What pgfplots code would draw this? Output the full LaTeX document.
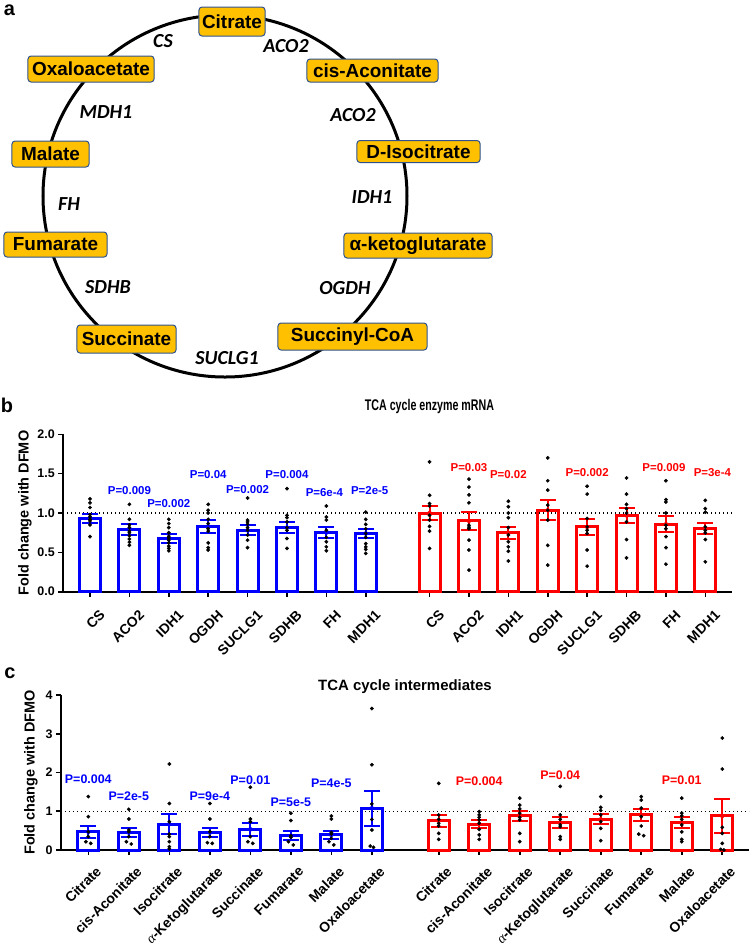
\documentclass[border=0pt]{standalone}
\usepackage{fontspec}
\setmainfont{Liberation Sans}
\newfontfamily\calibri{Carlito}
\newfontfamily\symfont{Liberation Serif}
\usepackage{graphicx}
\usepackage{pgfplots}
\pgfplotsset{compat=1.18}
\definecolor{boxfill}{RGB}{255,192,0}
\definecolor{boxdraw}{RGB}{47,82,143}
\pgfplotsset{
 panel/.style={
  scale only axis, clip=false, enlargelimits=false,
  axis lines=left, axis line style={-, line width=1.6bp},
  tick align=outside, major tick length=5bp,
  tick style={line width=1.6bp, black},
  /pgf/number format/assume math mode=true,
  yticklabel style={font=\bfseries\fontsize{12.5}{12.5}\selectfont},
  xticklabel style={rotate=45, anchor=north east, inner sep=0pt, xshift=-2.5bp, yshift=-15bp},
  ylabel={Fold change with DFMO},
  ylabel style={font=\bfseries\fontsize{14.5}{14.5}\selectfont, anchor=center},
 },
 bars/.style={ybar, bar width=21bp, bar shift=0pt, draw=#1, line width=3bp, fill=none},
 errs/.style={#1, only marks, mark=none, error bars/.cd, y dir=both, y explicit,
   error bar style={draw=#1, line width=2bp},
   error mark options={draw=#1, line width=2bp, mark size=8bp, rotate=90}},
 dots/.style={only marks, mark=*, mark size=1.7bp, black},
}
\tikzset{
 box/.style={draw=boxdraw, fill=boxfill, line width=1bp, rounded corners=3bp, inner sep=0pt, text=black, font=\bfseries\fontsize{19}{19}\selectfont},
 enz/.style={font=\calibri\bfseries\itshape\fontsize{20}{20}\selectfont},
 plab/.style={font=\bfseries\fontsize{20}{20}\selectfont, anchor=base, inner sep=0pt},
}
\newcommand{\akg}{{\symfont\itshape\mdseries α}-Ketoglutarate}
\begin{document}
\begin{tikzpicture}
\path[use as bounding box] (0,0) rectangle (750bp,-945bp);
% ---------- panel a and headings ----------
\begin{axis}[at={(0bp,0bp)}, anchor=north west, scale only axis, width=750bp, height=945bp,
  xmin=0, xmax=750, ymin=0, ymax=945, y dir=reverse, hide axis, clip=false]
\draw[line width=3bp] (axis cs:225,196) ellipse [x radius=182bp, y radius=181bp];
\node[box, minimum width=66bp, minimum height=29bp] at (axis cs:232,21.5) {Citrate};
\node[box, minimum width=126bp, minimum height=26bp] at (axis cs:91,69) {Oxaloacetate};
\node[box, minimum width=131bp, minimum height=23bp] at (axis cs:372.5,70.5) {cis-Aconitate};
\node[box, minimum width=123bp, minimum height=22bp] at (axis cs:418.5,151.5) {D-Isocitrate};
\node[box, minimum width=77bp, minimum height=26bp] at (axis cs:50.5,154) {Malate};
\node[box, minimum width=103bp, minimum height=25bp] at (axis cs:55.5,244.5) {Fumarate};
\node[box, minimum width=148bp, minimum height=25bp] at (axis cs:418,245.5) {α-ketoglutarate};
\node[box, minimum width=99bp, minimum height=28bp] at (axis cs:126.5,339) {Succinate};
\node[box, minimum width=149bp, minimum height=27bp] at (axis cs:352.5,336.5) {Succinyl-CoA};
\node[enz] at (axis cs:163,41) {CS};
\node[enz] at (axis cs:286,46) {ACO2};
\node[enz] at (axis cs:353,115) {ACO2};
\node[enz] at (axis cs:106,112) {MDH1};
\node[enz] at (axis cs:69,204) {FH};
\node[enz] at (axis cs:372,197) {IDH1};
\node[enz] at (axis cs:108,287) {SDHB};
\node[enz] at (axis cs:345,288) {OGDH};
\node[enz] at (axis cs:227,358) {SUCLG1};
\node[plab] at (axis cs:9.5,15) {a};
\node[plab] at (axis cs:7,412) {b};
\node[plab] at (axis cs:10,678.5) {c};
\node[font=\bfseries\fontsize{15.5}{15.5}\selectfont] at (axis cs:429.5,406) {\scalebox{0.69}[1]{TCA cycle enzyme mRNA}};
\node[font=\bfseries\fontsize{15}{15}\selectfont] at (axis cs:405,687) {TCA cycle intermediates};
\end{axis}
% ---------- panel b ----------
\begin{axis}[panel, at={(63.3bp,-591.7bp)}, anchor=south west, width=668.4bp, height=157.4bp,
  xmin=-0.678, xmax=16.29, ymin=0, ymax=2,
  ytick={0,0.5,1,1.5,2},
  yticklabel style={/pgf/number format/.cd, fixed, fixed zerofill, precision=1},
  ylabel style={at={(axis description cs:-0.0573,0.5)}},
  xtick={0,1,2,3,4,5,6,7,8.62,9.62,10.62,11.62,12.62,13.62,14.62,15.62},
  xticklabels={CS,ACO2,IDH1,OGDH,SUCLG1,SDHB,FH,MDH1,CS,ACO2,IDH1,OGDH,SUCLG1,SDHB,FH,MDH1},
  xticklabel style={font=\bfseries\fontsize{14}{14}\selectfont}]
\addplot[black, line width=1.1bp, dash pattern=on 1.1bp off 2.9bp] coordinates {(-0.678,1) (16.29,1)};
\addplot[bars=blue] coordinates {(0,0.934) (1,0.79) (2,0.676) (3,0.83) (4,0.78) (5,0.815) (6,0.752) (7,0.74)};
\addplot[bars=red] coordinates {(8.62,1.0) (9.62,0.90) (10.62,0.748) (11.62,1.035) (12.62,0.824) (13.62,0.97) (14.62,0.857) (15.62,0.80)};
\addplot[errs=blue] coordinates {(0,0.934) +- (0,0.058) (1,0.79) +- (0,0.065) (2,0.676) +- (0,0.054) (3,0.83) +- (0,0.083) (4,0.78) +- (0,0.064) (5,0.815) +- (0,0.073) (6,0.752) +- (0,0.068) (7,0.74) +- (0,0.062)};
\addplot[errs=red] coordinates {(8.62,1.0) +- (0,0.095) (9.62,0.90) +- (0,0.115) (10.62,0.748) +- (0,0.08) (11.62,1.035) +- (0,0.125) (12.62,0.824) +- (0,0.098) (13.62,0.97) +- (0,0.092) (14.62,0.857) +- (0,0.10) (15.62,0.80) +- (0,0.072)};
\addplot[dots] coordinates {
(0,1.18) (0,1.13) (0,1.07) (0,0.98) (0,0.95) (0,0.92) (0,0.90) (0,0.85) (0,0.70)
(1,1.11) (1,0.92) (1,0.85) (1,0.815) (1,0.77) (1,0.75) (1,0.71) (1,0.67) (1,0.63) (1,0.59)
(2,0.92) (2,0.866) (2,0.815) (2,0.75) (2,0.705) (2,0.684) (2,0.655) (2,0.62) (2,0.58) (2,0.55) (2,0.52)
(3,1.11) (3,1.035) (3,1.0) (3,0.92) (3,0.866) (3,0.80) (3,0.77) (3,0.62) (3,0.56) (3,0.53)
(4,1.19) (4,0.91) (4,0.887) (4,0.858) (4,0.815) (4,0.78) (4,0.72) (4,0.655) (4,0.56)
(5,1.31) (5,0.97) (5,0.94) (5,0.887) (5,0.815) (5,0.78) (5,0.676) (5,0.55)
(6,1.09) (6,0.95) (6,0.91) (6,0.78) (6,0.69) (6,0.634) (6,0.57) (6,0.52)
(7,1.01) (7,0.92) (7,0.855) (7,0.80) (7,0.74) (7,0.69) (7,0.61) (7,0.57) (7,0.537) (7,0.486)
(8.62,1.65) (8.62,1.225) (8.62,1.12) (8.62,1.09) (8.62,0.97) (8.62,0.91) (8.62,0.83) (8.62,0.77) (8.62,0.55)
(9.62,1.43) (9.62,1.33) (9.62,1.23) (9.62,1.13) (9.62,0.845) (9.62,0.82) (9.62,0.80) (9.62,0.655) (9.62,0.53) (9.62,0.275)
(10.62,1.15) (10.62,1.08) (10.62,1.0) (10.62,0.94) (10.62,0.815) (10.62,0.72) (10.62,0.634) (10.62,0.57) (10.62,0.515) (10.62,0.39)
(11.62,1.70) (11.62,1.41) (11.62,1.29) (11.62,1.10) (11.62,1.035) (11.62,0.91) (11.62,0.59) (11.62,0.338)
(12.62,1.34) (12.62,1.24) (12.62,0.93) (12.62,0.824) (12.62,0.78) (12.62,0.74) (12.62,0.53) (12.62,0.325)
(13.62,1.445) (13.62,1.24) (13.62,1.11) (13.62,1.056) (13.62,1.0) (13.62,0.887) (13.62,0.663) (13.62,0.43)
(14.62,1.41) (14.62,1.17) (14.62,1.14) (14.62,1.0) (14.62,0.845) (14.62,0.80) (14.62,0.70) (14.62,0.56) (14.62,0.35)
(15.62,1.16) (15.62,1.056) (15.62,1.01) (15.62,0.824) (15.62,0.78) (15.62,0.748) (15.62,0.663) (15.62,0.38)};
\begin{scope}[font=\bfseries\fontsize{11.5}{11.5}\selectfont]
\node[text=blue] at (axis cs:1,1.29) {P=0.009};
\node[text=blue] at (axis cs:2,1.12) {P=0.002};
\node[text=blue] at (axis cs:3,1.49) {P=0.04};
\node[text=blue] at (axis cs:4,1.30) {P=0.002};
\node[text=blue] at (axis cs:5,1.49) {P=0.004};
\node[text=blue] at (axis cs:5.95,1.255) {P=6e-4};
\node[text=blue] at (axis cs:7.1,1.28) {P=2e-5};
\node[text=red] at (axis cs:9.62,1.58) {P=0.03};
\node[text=red] at (axis cs:10.62,1.49) {P=0.02};
\node[text=red] at (axis cs:12.62,1.51) {P=0.002};
\node[text=red] at (axis cs:14.57,1.58) {P=0.009};
\node[text=red] at (axis cs:15.8,1.51) {P=3e-4};
\end{scope}
\end{axis}
% ---------- panel c ----------
\begin{axis}[panel, at={(61bp,-850bp)}, anchor=south west, width=688bp, height=155bp,
  xmin=-0.674, xmax=16.31, ymin=0, ymax=4,
  ytick={0,1,2,3,4},
  ylabel style={at={(axis description cs:-0.0436,0.5)}},
  xtick={0,1,2,3,4,5,6,7,8.65,9.65,10.65,11.65,12.65,13.65,14.65,15.65},
  xticklabels={Citrate,cis-Aconitate,Isocitrate,\akg,Succinate,Fumarate,Malate,Oxaloacetate,Citrate,cis-Aconitate,Isocitrate,\akg,Succinate,Fumarate,Malate,Oxaloacetate},
  xticklabel style={font=\bfseries\fontsize{14}{14}\selectfont, yshift=3bp}]
\addplot[black, line width=1.1bp, dash pattern=on 1.1bp off 2.9bp] coordinates {(-0.674,1) (16.31,1)};
\addplot[bars=blue] coordinates {(0,0.47) (1,0.45) (2,0.664) (3,0.45) (4,0.534) (5,0.37) (6,0.39) (7,1.077)};
\addplot[bars=red] coordinates {(8.65,0.76) (9.65,0.67) (10.65,0.88) (11.65,0.707) (12.65,0.79) (13.65,0.905) (14.65,0.707) (15.65,0.88)};
\addplot[errs=blue] coordinates {(0,0.47) +- (0,0.15) (1,0.45) +- (0,0.12) (2,0.664) +- (0,0.255) (3,0.45) +- (0,0.12) (4,0.534) +- (0,0.175) (5,0.37) +- (0,0.12) (6,0.39) +- (0,0.11) (7,1.077) +- (0,0.45)};
\addplot[errs=red] coordinates {(8.65,0.76) +- (0,0.155) (9.65,0.67) +- (0,0.10) (10.65,0.88) +- (0,0.135) (11.65,0.707) +- (0,0.15) (12.65,0.79) +- (0,0.13) (13.65,0.905) +- (0,0.165) (14.65,0.707) +- (0,0.14) (15.65,0.88) +- (0,0.43)};
\addplot[dots] coordinates {
(0,1.38) (0,0.86) (0,0.47) (0,0.345) (-0.06,0.215) (0.06,0.17)
(1,1.05) (1,0.80) (1,0.517) (1,0.47) (1,0.345) (0.94,0.215) (1.06,0.155)
(2,2.22) (2,1.2) (2,0.73) (2,0.41) (2,0.345) (2,0.215) (2,0.086) (2,0.03)
(3,1.2) (3,0.80) (3,0.47) (3,0.345) (2.94,0.19) (3.06,0.17)
(4,1.62) (4,0.80) (4,0.73) (4,0.345) (3.94,0.215) (4.06,0.17)
(5,0.95) (5,0.76) (5,0.37) (5,0.33) (4.94,0.215) (5.06,0.13)
(6,0.88) (6,0.80) (6,0.45) (6,0.41) (6,0.30) (5.94,0.215) (6.06,0.13)
(7,3.65) (7,2.2) (7,1.19) (7,0.79) (7,0.517) (6.96,0.103) (7.04,0.07)
(8.65,1.72) (8.65,0.905) (8.65,0.79) (8.65,0.69) (8.65,0.62) (8.65,0.43) (8.65,0.276)
(9.65,0.99) (9.65,0.905) (9.65,0.845) (9.65,0.776) (9.65,0.69) (9.65,0.534) (9.65,0.39) (9.65,0.276)
(10.65,1.34) (10.65,1.16) (10.65,1.06) (10.65,0.95) (10.65,0.845) (10.65,0.776) (10.65,0.43) (10.65,0.215)
(11.65,1.64) (11.65,0.905) (11.65,0.79) (11.65,0.647) (11.65,0.60) (11.65,0.345) (11.65,0.276)
(12.65,1.38) (12.65,1.10) (12.65,1.02) (12.65,0.905) (12.65,0.73) (12.65,0.56) (12.65,0.24)
(13.65,1.38) (13.65,1.29) (13.65,1.08) (13.65,0.86) (13.65,0.62) (13.59,0.41) (13.71,0.37)
(14.65,1.34) (14.65,0.95) (14.65,0.88) (14.65,0.79) (14.65,0.647) (14.65,0.47) (14.65,0.276) (14.65,0.215)
(15.65,2.89) (15.65,2.09) (15.65,0.586) (15.65,0.43) (15.65,0.17) (15.61,0.017) (15.69,0.0)};
\begin{scope}[font=\bfseries\fontsize{12.5}{12.5}\selectfont]
\node[text=blue] at (axis cs:0,1.83) {P=0.004};
\node[text=blue] at (axis cs:1,1.38) {P=2e-5};
\node[text=blue] at (axis cs:3,1.38) {P=9e-4};
\node[text=blue] at (axis cs:4,1.79) {P=0.01};
\node[text=blue] at (axis cs:5,1.22) {P=5e-5};
\node[text=blue] at (axis cs:6,1.71) {P=4e-5};
\node[text=red] at (axis cs:9.65,1.77) {P=0.004};
\node[text=red] at (axis cs:11.65,1.94) {P=0.04};
\node[text=red] at (axis cs:14.65,1.81) {P=0.01};
\end{scope}
\end{axis}
\end{tikzpicture}
\end{document}
